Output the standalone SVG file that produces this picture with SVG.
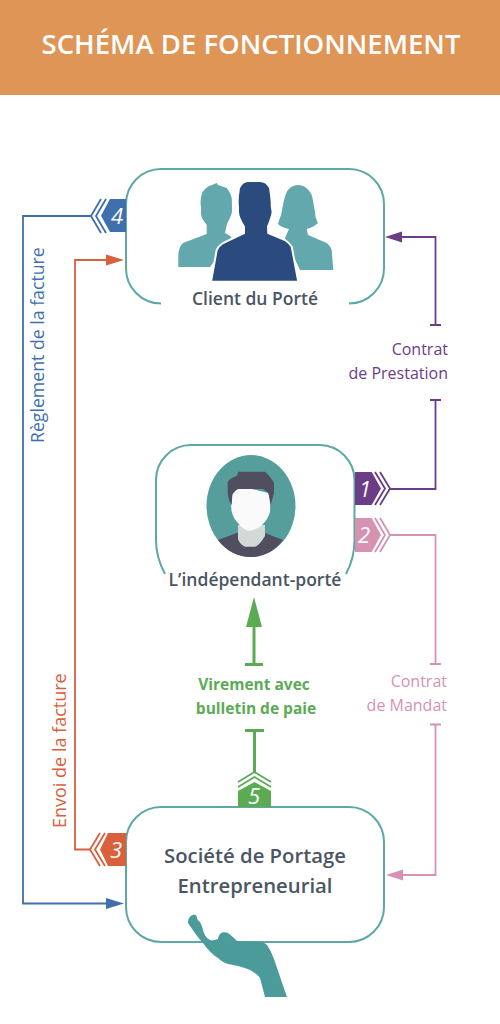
<svg xmlns="http://www.w3.org/2000/svg" width="500" height="1024" viewBox="0 0 500 1024">
<style>
text{font-family:"Open Sans","Liberation Sans",sans-serif}
.box{fill:none;stroke:#5ba8a6;stroke-width:2}
.ln{fill:none;stroke-width:1.8}
.chev{fill:none;stroke-width:1.8}
.num{font-style:italic;font-size:22px;fill:#fff;text-anchor:middle}
.name{font-weight:600;fill:#4b5563;text-anchor:middle}
.lbl{font-size:16px;text-anchor:end}
.blue{stroke:#3f70ad}.orange{stroke:#d9603c}.purple{stroke:#6c3d87}.pink{stroke:#d692b3}.green{stroke:#5bab55}
</style>
<rect width="500" height="1024" fill="#fff"/>
<g id="header"><rect width="500" height="95" fill="#de9556"/>
<text x="251" y="54" font-size="27.500" font-weight="600" fill="#fff" text-anchor="middle">SCHÉMA DE FONCTIONNEMENT</text></g>
<g id="connectors">
<path class="ln blue" d="M92 216H23V903.500H108"/><path d="M124 903.500L106 898V909Z" fill="#3f70ad"/>
<path class="chev blue" d="M101 199L91 216L101 233M106 199L96 216L106 233"/>
<path class="ln orange" d="M91 849.500H75V260H108"/><path d="M124 260L106 254.500V265.500Z" fill="#d9603c"/>
<path class="chev orange" d="M100 833L90 849.500L100 866M105 833L95 849.500L105 866"/>
<path class="ln purple" d="M435.500 324V237H400M430 325H441M430 400H441M435.500 400V489H389"/><path d="M385 237L402 231.500V242.500Z" fill="#6c3d87"/>
<path class="chev purple" d="M375 472L385 488.500L375 505M380 472L390 488.500L380 505"/>
<path class="ln pink" d="M389 535H435.500V664M430 664H441M430 724.500H441M435.500 724.500V875H402"/><path d="M386 875L403 869.500V880.500Z" fill="#d692b3"/>
<path class="chev pink" d="M375 518L385 535L375 552M380 518L390 535L380 552"/>
<path d="M254 597L262 627H246Z" fill="#5bab55"/>
<path class="green" fill="none" stroke-width="3" d="M254 625V664M245 664.500H263M245 730.500H264M254.500 730V773"/>
<path class="chev green" stroke-width="2" d="M238 782L254.500 772L271 782M238 787L254.500 777L271 787"/>
</g>
<g id="client">
<path class="box" d="M160.500 303.500H161A35 35 0 0 1 126 268.500V204A35 35 0 0 1 161 169H349A35 35 0 0 1 384 204V268.500A35 35 0 0 1 349 303.500H351.500"/>
<path d="M178.300 267V255C179 249 180 246 183 243L206.700 234V225C204 221 201 218 201 213V207C200 202 201 197 202 193C204 189 208 186 212 185L216.700 183L218 185L226.700 188C229 191 231 194 231.700 198C232 203 232 207 232 212C231 217 228 221 226.700 225L225 233L231.700 237L210 267Z" fill="#62a8ad"/>
<path d="M333.300 270L331.700 250C331 247 329 245 326.700 243L308 235L306.700 229C311 228 315 226 318 223C316 219 315 216 315 212C314 206 313 200 311.700 195C309 189 304 185 298 185C293 185 289 188 286.700 192C284 198 283 205 281.700 212C281 216 279 220 278 224C281 227 285 228 289 229L285 238L300 270Z" fill="#62a8ad"/>
<path d="M211 281.700L216.700 250C218 247 220 245 223 243L244 233V226.700C241 222 238 217 238 211.700V206.700C237 200 238 194 239 188C241 184 244 181 248 181H260C264 181 268 184 270 188C271 194 272 200 271.700 206.700L272.700 211.700C272 217 270 222 268 226.700L268.300 233L285 240C288 242 290 244 291.700 246.700L298.300 281.700Z" fill="#2b4b7f" stroke="#fff" stroke-width="2"/>
<text class="name" x="255" y="305" font-size="17.500">Client du Porté</text>
<path d="M110 199H126V232H110L101 215.700Z" fill="#3f70ad"/><text class="num" x="117" y="224">4</text>
</g>
<g id="independant">
<path class="box" d="M165 574C158 561 156 550 156 540V480A35 35 0 0 1 191 445H320A35 35 0 0 1 354.500 480V540C354.500 552 352 563 346 574"/>
<ellipse cx="251" cy="506" rx="44.500" ry="51" fill="#559e9c"/>
<path d="M218 540L236.700 533H265L283 540C275 551 263 557 251 557C238 557 226 551 218 540Z" fill="#504e5f"/>
<path d="M238 525H265V536C262 541 258 546 255 546.700H245C241 545 238 541 238 538Z" fill="#d3d9d7"/>
<path d="M232 495C231 503 231 508 231.700 511.700C233 517 235 520 238 523C242 528 246 531 250 530.700C255 530 260 527 263 524C266 521 269 516 270 511.700C270.500 505 270 498 268.300 493L240 486Z" fill="#fafafa"/>
<path d="M238.300 471.700H265C269 475 272 479 274 483V493L270.700 505C270 500 269 496 268.300 493C266 491 264 489 261.700 489H238.300C235 490 233 492 232.300 495L231.700 505C229 501 228 497 227.700 493V481.700C230 479 233 477 236.700 476Z" fill="#504e5f"/>
<text class="name" x="255" y="586" font-size="17.500">L’indépendant-porté</text>
<path d="M355 472H371.700L381 488.500L371.700 505H355Z" fill="#6c3d87"/><text class="num" x="365" y="497">1</text>
<path d="M355 518H371.700L381 535L371.700 552H355Z" fill="#d692b3"/><text class="num" x="364" y="543">2</text>
</g>
<g id="societe">
<rect x="126" y="807" width="258" height="135" rx="35" fill="#fff" stroke="#5ba8a6" stroke-width="2"/>
<text class="name" x="255" y="863" font-size="20.300">Société de Portage</text>
<text class="name" x="255" y="893" font-size="20.300">Entrepreneurial</text>
<path d="M238 807V791L254.500 782L271 791V807Z" fill="#5bab55"/><text class="num" x="254" y="804">5</text>
<path d="M126 833H108L100 849.500L108 866H126Z" fill="#d9603c"/><text class="num" x="116" y="858">3</text>
<path d="M193 915C189 916 188 920 188 923C193 930 198 938 203 943C208 950 213 955 218 958C223 963 228 964 233 965C240 966 245 968 250 970C255 973 258 975 260 978L265 997H287L277 968C274 958 271 951 267 945C265 943 263 942 260 942L237 941C234 938 231 935 228 933C225 932 222 932 220 934C219 936 218 937 218 939C215 940 212 941 210 940C206 938 204 934 203 930C202 926 201 924 200 922C198 921 197 919 197 917C196 915 194 914 193 915Z" fill="#4a9b99"/>
</g>
<g id="labels">
<text class="lbl" x="448" y="355" fill="#6c3d87">Contrat</text>
<text class="lbl" x="448" y="379" fill="#6c3d87">de Prestation</text>
<text class="lbl" x="447" y="687" fill="#d692b3">Contrat</text>
<text class="lbl" x="447" y="711" fill="#d692b3">de Mandat</text>
<text x="254" y="690" font-size="15.500" font-weight="700" fill="#5bab55" text-anchor="middle">Virement avec</text>
<text x="256" y="714" font-size="15.500" font-weight="700" fill="#5bab55" text-anchor="middle">bulletin de paie</text>
<text transform="translate(44 443) rotate(-90)" font-size="17.700" fill="#3f70ad">Règlement de la facture</text>
<text transform="translate(66 828) rotate(-90)" font-size="18" fill="#d9603c">Envoi de la facture</text>
</g>
</svg>
